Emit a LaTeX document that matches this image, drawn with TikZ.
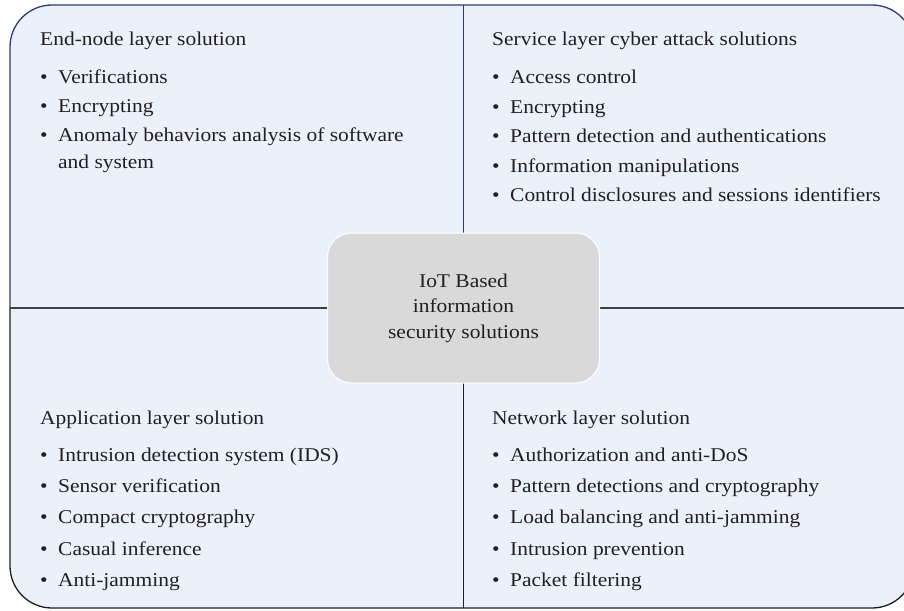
\documentclass[tikz,border=0pt]{standalone}
\usepackage{fontspec}
\setmainfont{Liberation Serif}[FakeStretch = 1.1]
\usetikzlibrary{positioning}
\definecolor{panelblue}{HTML}{EAF1FB}
\definecolor{edgenavy}{HTML}{2E3A78}
\definecolor{edgedark}{HTML}{1E1E1E}
\definecolor{hubgray}{HTML}{D9D9D9}
\definecolor{inkgray}{HTML}{231F20}
\newcommand{\blt}{\makebox[18pt][l]{\textbullet}}
\tikzset{
  heading/.style = {anchor = base west, inner sep = 0pt, text = inkgray,
                    font = \fontsize{19.5}{22}\selectfont},
  entry/.style   = {heading},
  hub/.style     = {draw = white, line width = 1pt, fill = hubgray,
                    rounded corners = 24pt, minimum width = 272pt,
                    minimum height = 150pt, align = center, text = inkgray,
                    font = \fontsize{19.5}{25.5}\selectfont}
}
\begin{document}
\begin{tikzpicture}[x = 1pt, y = -1pt]
      \useasboundingbox (0, 0) rectangle (904, 610);
      \clip (0, 0) rectangle (904, 610);
      % frame and dividers
      \fill [panelblue, rounded corners = 42pt] (10, 5) rectangle (914, 608);
      \draw [edgenavy, line width = 1.3pt, rounded corners = 42pt]
        (10, 308) -- (10, 5) -- (914, 5) -- (914, 308);
      \draw [edgedark, line width = 1.3pt, rounded corners = 42pt]
        (10, 308) -- (10, 608) -- (914, 608) -- (914, 308);
      \coordinate (top) at (463.5, 5);
      \coordinate (bottom) at (463.5, 608);
      \coordinate (left) at (10, 308);
      \coordinate (right) at (914, 308);
      \coordinate (mid) at (463.5, 308);
      \draw [edgenavy, line width = 1.3pt] (top) -- (mid);
      \draw [edgedark, line width = 1.3pt] (mid) -- (bottom);
      \draw [edgedark!85, line width = 1.3pt] (left) -- (right);
      % centre
      \node [hub] (hub) at (mid) {IoT Based\\information\\security solutions};
      % end-node layer
      \node [heading] (endnode) at (40, 46) {End-node layer solution};
      \foreach \txt [count = \i] in {Verifications, Encrypting,
          Anomaly behaviors analysis of software}
        \node [entry] (endnode-\i) at (40, 54 + 29*\i) {\blt\txt};
      \node [entry] (endnode-4) at (58, 168) {and system};
      % service layer
      \node [heading] (service) at (492, 46) {Service layer cyber attack solutions};
      \foreach \txt [count = \i] in {Access control, Encrypting,
          Pattern detection and authentications, Information manipulations,
          Control disclosures and sessions identifiers}
        \node [entry] (service-\i) at (492, 54 + 29.5*\i) {\blt\txt};
      % application layer
      \node [heading] (application) at (40, 424) {Application layer solution};
      \foreach \txt [count = \i] in {Intrusion detection system (IDS),
          Sensor verification, Compact cryptography, Casual inference,
          Anti-jamming}
        \node [entry] (application-\i) at (40, 430 + 31.3*\i) {\blt\txt};
      % network layer
      \node [heading] (network) at (492, 424) {Network layer solution};
      \foreach \txt [count = \i] in {Authorization and anti-DoS,
          Pattern detections and cryptography,
          Load balancing and anti-jamming, Intrusion prevention,
          Packet filtering}
        \node [entry] (network-\i) at (492, 430 + 31.3*\i) {\blt\txt};
\end{tikzpicture}
\end{document}
